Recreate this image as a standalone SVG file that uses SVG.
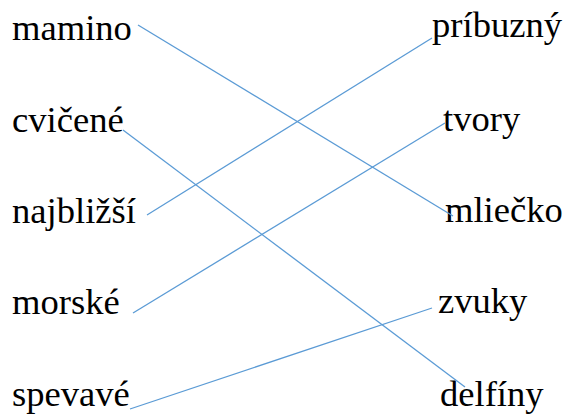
<svg xmlns="http://www.w3.org/2000/svg" width="569" height="416" viewBox="0 0 569 416">
<rect width="569" height="416" fill="#fff"/>
<text x="12" y="40" font-family="Liberation Serif" font-size="36.6">mamino</text>
<text x="12" y="132" font-family="Liberation Serif" font-size="36.6">cvičené</text>
<text x="12" y="223" font-family="Liberation Serif" font-size="36.6">najbližší</text>
<text x="12" y="314" font-family="Liberation Serif" font-size="36.6">morské</text>
<text x="12" y="406" font-family="Liberation Serif" font-size="36.6">spevavé</text>
<text x="432" y="37" font-family="Liberation Serif" font-size="36.6">príbuzný</text>
<text x="443" y="131" font-family="Liberation Serif" font-size="36.6">tvory</text>
<text x="445" y="222" font-family="Liberation Serif" font-size="36.6">mliečko</text>
<text x="438" y="313" font-family="Liberation Serif" font-size="36.6">zvuky</text>
<text x="440" y="406" font-family="Liberation Serif" font-size="36.6">delfíny</text>
<line x1="138" y1="25" x2="453" y2="216" stroke="#5B9BD5" stroke-width="1.3"/>
<line x1="123" y1="130" x2="465" y2="387" stroke="#5B9BD5" stroke-width="1.3"/>
<line x1="147" y1="215" x2="432" y2="38" stroke="#5B9BD5" stroke-width="1.3"/>
<line x1="133" y1="313" x2="445" y2="123" stroke="#5B9BD5" stroke-width="1.3"/>
<line x1="130" y1="409" x2="432" y2="308" stroke="#5B9BD5" stroke-width="1.3"/>
</svg>
